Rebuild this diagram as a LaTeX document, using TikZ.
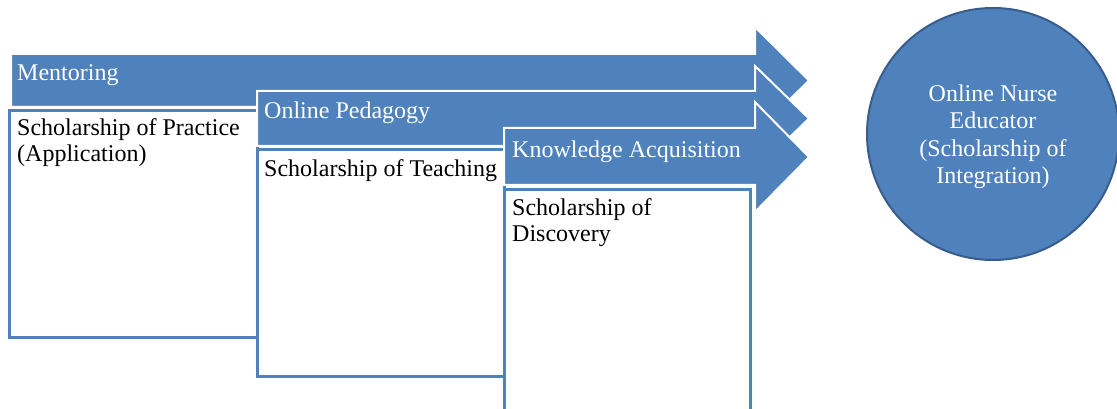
\documentclass[tikz,border=0pt]{standalone}
\usepackage{fontspec}
\setmainfont{Liberation Serif}
\usepackage{xcolor}
\usepackage{tikz}
\usetikzlibrary{positioning}

\definecolor{barblue}{HTML}{4F81BD}
\definecolor{rimblue}{HTML}{385D8A}

\tikzset{
  band/.style={fill=barblue, draw=white, line width=2pt, line join=miter},
  panel/.style={fill=white, draw=barblue, line width=3pt},
  bandtext/.style={anchor=base west, text=white, inner sep=0pt},
  paneltext/.style={anchor=base west, text=black, inner sep=0pt, align=left},
  goal/.style={circle, fill=barblue, draw=rimblue, line width=2pt, minimum size=252pt},
  goaltext/.style={text=white, align=center, font=\fontsize{24}{27.5}\selectfont}
}

\begin{document}
\begin{tikzpicture}[x=1pt, y=-1pt, font=\fontsize{24}{26}\selectfont]
\useasboundingbox (0,0) rectangle (1117,409);

\draw[band] (11,54) -- (755,54) -- (755,27) -- (809,80.5) -- (755,134) -- (755,107) -- (11,107) -- cycle;
\draw[panel] (9,111) rectangle (257,337);
\draw (17,81)    node (m)  [bandtext]  {Mentoring};
\draw (17,162)   node (sp) [paneltext] {Scholarship of Practice\\(Application)};

\draw[band] (257,91) -- (755,91) -- (755,66) -- (809,118.5) -- (755,171) -- (755,146) -- (257,146) -- cycle;
\draw[panel] (257,150) rectangle (504,376);
\draw (264,119)  node (op) [bandtext]  {Online Pedagogy};
\draw (264,176)  node (st) [paneltext] {Scholarship of Teaching};

\draw[band] (504,128) -- (755,128) -- (755,102) -- (809,157) -- (755,212) -- (755,185) -- (504,185) -- cycle;
\draw[panel] (504,190) rectangle (750,425);
\draw (512,158)  node (ka) [bandtext]  {Knowledge Acquisition};
\draw (512,241)  node (sd) [paneltext] {Scholarship of\\Discovery};

\draw (993,134)  node (ne) [goal] {};
\draw (993,137)  node (net) [goaltext] {Online Nurse\\Educator\\(Scholarship of\\Integration)};

\end{tikzpicture}
\end{document}
